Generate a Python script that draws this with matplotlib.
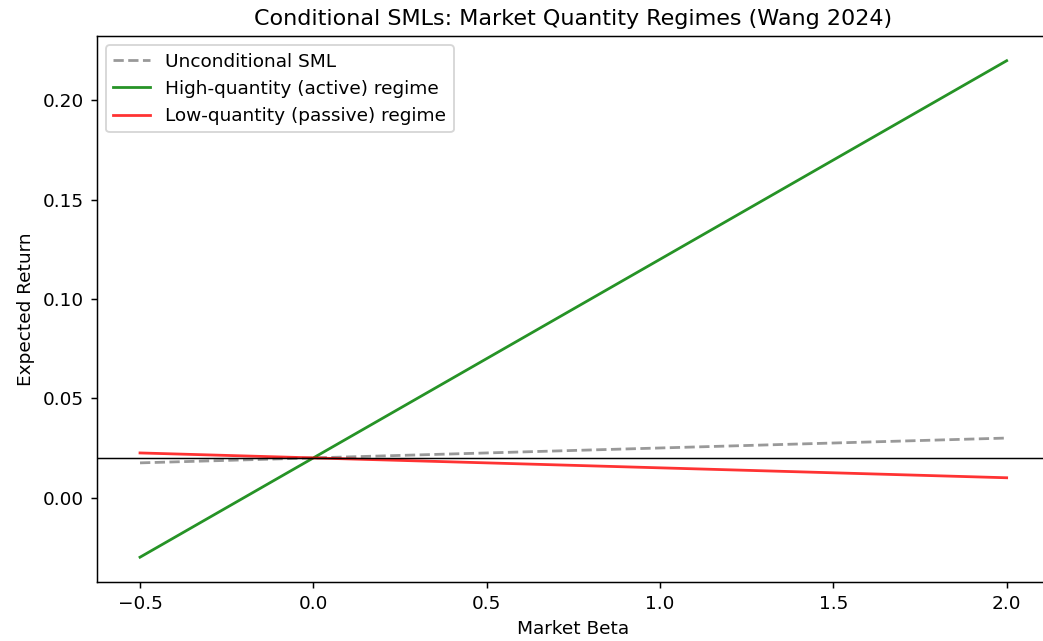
import numpy as np
import matplotlib.pyplot as plt

# market betas at the two ends of each line
beta = np.array([-0.5, 2.0])

rf = 0.02
slope_uncond = 0.005
slope_high = 0.10
slope_low = -0.005

sml_uncond = rf + slope_uncond * beta
sml_high = rf + slope_high * beta
sml_low = rf + slope_low * beta

# rendered at a higher dpi so text and lines come out as large as in the original
dpi = 133.33
fig = plt.figure(figsize=(1043 / dpi, 641 / dpi), dpi=dpi)
# the original is cropped just before the right spine
ax = fig.add_axes([0.0927, 0.092, 0.914, 0.852])

ax.plot(beta, sml_uncond, '--', color='gray', alpha=0.8, label='Unconditional SML')
ax.plot(beta, sml_high, color='green', alpha=0.85, label='High-quantity (active) regime')
ax.plot(beta, sml_low, color='red', alpha=0.8, label='Low-quantity (passive) regime')
ax.axhline(rf, color='black', lw=0.8)

ax.set_title('Conditional SMLs: Market Quantity Regimes (Wang 2024)')
ax.set_xlabel('Market Beta')
ax.set_ylabel('Expected Return')
ax.legend(loc='upper left')

fig.savefig('out.png', dpi=dpi)
